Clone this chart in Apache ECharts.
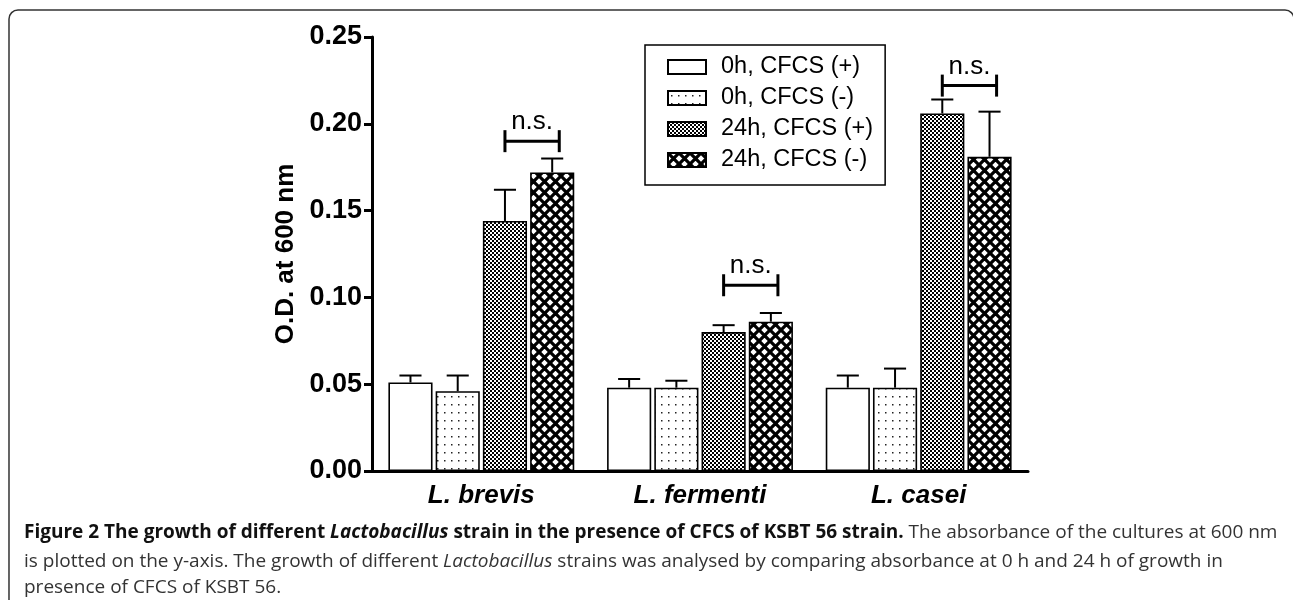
<!DOCTYPE html>
<html>
<head>
<meta charset="utf-8">
<script src="https://cdn.jsdelivr.net/npm/echarts@6/dist/echarts.min.js"></script>
<style>
  html, body { margin: 0; padding: 0; background: #fff; }
  #chart { width: 1293px; height: 600px; }
</style>
</head>
<body>
<div id="chart"></div>
<script>
// values
const categories = ['L. brevis', 'L. fermenti', 'L. casei'];
const seriesNames = ['0h, CFCS (+)', '0h, CFCS (-)', '24h, CFCS (+)', '24h, CFCS (-)'];

const od0hPlus = [0.051, 0.048, 0.048];
const od0hMinus = [0.046, 0.048, 0.048];
const od24hPlus = [0.144, 0.080, 0.206];
const od24hMinus = [0.172, 0.086, 0.181];

const sd0hPlus = [0.004, 0.005, 0.007];
const sd0hMinus = [0.009, 0.004, 0.011];
const sd24hPlus = [0.018, 0.004, 0.008];
const sd24hMinus = [0.008, 0.005, 0.026];

// height of the "n.s." bracket for each strain
const nsLevels = [0.190, 0.107, 0.222];

const means = [od0hPlus, od0hMinus, od24hPlus, od24hMinus];
const sds = [sd0hPlus, sd0hMinus, sd24hPlus, sd24hMinus];

const CAT_GAP = 0.15;
const BAR_GAP = 0.07;
const FONT = '"Liberation Sans", Arial, sans-serif';

function tile(size, draw) {
  const c = document.createElement('canvas');
  c.width = size[0];
  c.height = size[1];
  const ctx = c.getContext('2d');
  ctx.fillStyle = '#fff';
  ctx.fillRect(0, 0, c.width, c.height);
  ctx.fillStyle = '#000';
  ctx.strokeStyle = '#000';
  draw(ctx, c.width, c.height);
  return c;
}

const patterns = [
  null,
  tile([7, 8], (ctx) => {
    ctx.fillStyle = '#222';
    ctx.fillRect(3, 4, 1.5, 1.5);
  }),
  tile([4, 4], (ctx) => {
    ctx.fillRect(0, 0, 2, 2);
    ctx.fillRect(2, 2, 2, 2);
  }),
  tile([11, 11], (ctx, w) => {
    ctx.lineWidth = 3.2;
    for (let k = -1; k <= 1; k++) {
      const o = k * w;
      ctx.beginPath();
      ctx.moveTo(o, 0);
      ctx.lineTo(o + w, w);
      ctx.moveTo(o + w, 0);
      ctx.lineTo(o, w);
      ctx.stroke();
    }
  }),
];

// centre of bar idx inside category cat, same rule as the bar layout
function barCenter(api, cat, idx) {
  const band = api.size([1, 0])[0];
  const group = band * (1 - CAT_GAP);
  const bw = group / (4 + 3 * BAR_GAP);
  const c = api.coord([cat, 0])[0];
  return { x: c - group / 2 + idx * bw * (1 + BAR_GAP) + bw / 2, bw };
}

const errorData = [];
means.forEach((arr, s) => {
  arr.forEach((m, i) => errorData.push([i, s, m, m + sds[s][i]]));
});

const barSeries = seriesNames.map((name, s) => ({
  type: 'bar',
  name,
  data: means[s],
  barGap: BAR_GAP * 100 + '%',
  barCategoryGap: CAT_GAP * 100 + '%',
  itemStyle: {
    color: patterns[s] ? { image: patterns[s], repeat: 'repeat' } : '#fff',
    borderColor: '#000',
    borderWidth: 1.6,
  },
  emphasis: { disabled: true },
}));

const errorSeries = {
  type: 'custom',
  name: 'sd',
  data: errorData,
  encode: { x: 0, y: 3 },
  z: 5,
  silent: true,
  renderItem(params, api) {
    const cat = api.value(0);
    const { x, bw } = barCenter(api, cat, api.value(1));
    const y0 = api.coord([cat, api.value(2)])[1];
    const y1 = api.coord([cat, api.value(3)])[1];
    const st = { stroke: '#000', lineWidth: 2 };
    return {
      type: 'group',
      children: [
        { type: 'line', shape: { x1: x, y1: y0, x2: x, y2: y1 }, style: st },
        { type: 'line', shape: { x1: x - bw / 4, y1, x2: x + bw / 4, y2: y1 }, style: st },
      ],
    };
  },
};

const nsSeries = {
  type: 'custom',
  name: 'ns',
  data: nsLevels.map((v, i) => [i, v]),
  z: 6,
  silent: true,
  renderItem(params, api) {
    const cat = api.value(0);
    const a = barCenter(api, cat, 2);
    const b = barCenter(api, cat, 3);
    const x1 = a.x;
    const x2 = b.x + b.bw * 0.16;
    const y = api.coord([cat, api.value(1)])[1];
    const st = { stroke: '#000', lineWidth: 3 };
    return {
      type: 'group',
      children: [
        { type: 'line', shape: { x1, y1: y, x2, y2: y }, style: st },
        { type: 'line', shape: { x1, y1: y - 11, x2: x1, y2: y + 11 }, style: st },
        { type: 'line', shape: { x1: x2, y1: y - 11, x2, y2: y + 11 }, style: st },
        {
          type: 'text',
          style: {
            x: (x1 + x2) / 2, y: y - 19, text: 'n.s.',
            align: 'center', verticalAlign: 'middle',
            font: '26px ' + FONT, fill: '#000',
          },
        },
      ],
    };
  },
};

const capFamily = '"Open Sans", sans-serif';
const caption = {
  b: { font: 'bold 19px ' + capFamily, fill: '#111' },
  bi: { font: 'italic bold 19px ' + capFamily, fill: '#111' },
  r: { font: '19px ' + capFamily, fill: '#333' },
  i: { font: 'italic 19px ' + capFamily, fill: '#333' },
};

const chart = echarts.init(document.getElementById('chart'));

chart.setOption({
  animation: false,
  backgroundColor: '#fff',
  grid: { left: 372, right: 265, top: 37, bottom: 129 },
  legend: {
    data: seriesNames,
    orient: 'vertical',
    left: 645,
    top: 45,
    padding: [10, 12, 13, 22],
    borderColor: '#000',
    borderWidth: 1.5,
    icon: 'rect',
    itemWidth: 38,
    itemHeight: 14,
    itemGap: 7,
    selectedMode: false,
    textStyle: {
      fontSize: 23.5,
      fontFamily: FONT,
      color: '#000',
      padding: [0, 0, 0, 10],
    },
  },
  xAxis: {
    type: 'category',
    data: categories,
    axisLine: { lineStyle: { color: '#000', width: 3 } },
    axisTick: { show: false },
    axisLabel: {
      margin: 12,
      fontSize: 26,
      fontWeight: 'bold',
      fontStyle: 'italic',
      fontFamily: FONT,
      color: '#000',
    },
  },
  yAxis: {
    type: 'value',
    min: 0,
    max: 0.25,
    interval: 0.05,
    name: 'O.D. at 600 nm',
    nameLocation: 'middle',
    nameGap: 69,
    nameTextStyle: { fontSize: 26, fontWeight: 'bold', fontFamily: FONT, color: '#000' },
    axisLine: { show: true, lineStyle: { color: '#000', width: 3 } },
    axisTick: { show: true, length: 8, lineStyle: { color: '#000', width: 3 } },
    splitLine: { show: false },
    axisLabel: {
      margin: 10,
      fontSize: 27,
      fontWeight: 'bold',
      fontFamily: FONT,
      color: '#000',
      formatter: (v) => v.toFixed(2),
    },
  },
  series: [...barSeries, errorSeries, nsSeries],
  graphic: [
    {
      type: 'rect',
      shape: { x: 9, y: 10, width: 1285, height: 700, r: 9 },
      style: { fill: 'none', stroke: '#333', lineWidth: 1.5 },
      silent: true,
    },
    {
      type: 'text',
      left: 24,
      top: 523,
      style: {
        text: '{b|Figure 2 The growth of different }{bi|Lactobacillus}{b| strain in the presence of CFCS of KSBT 56 strain.}{r| The absorbance of the cultures at 600 nm}',
        rich: caption,
      },
    },
    {
      type: 'text',
      left: 24,
      top: 552,
      style: {
        text: '{r|is plotted on the y-axis. The growth of different }{i|Lactobacillus}{r| strains was analysed by comparing absorbance at 0 h and 24 h of growth in}',
        rich: caption,
      },
    },
    {
      type: 'text',
      left: 24,
      top: 578,
      style: {
        text: '{r|presence of CFCS of KSBT 56.}',
        rich: caption,
      },
    },
  ],
});
</script>
</body>
</html>
